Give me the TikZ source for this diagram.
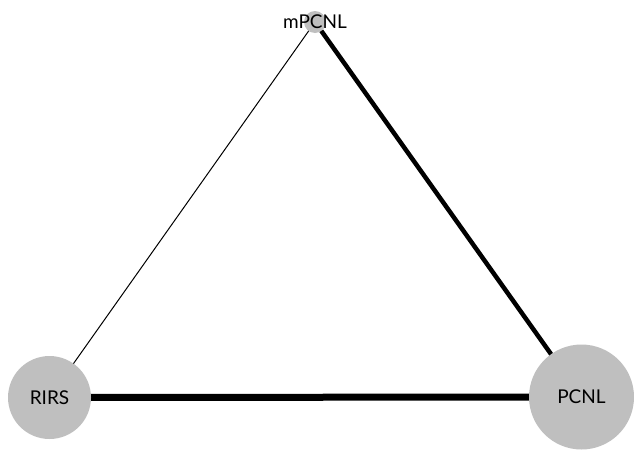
\documentclass[tikz,border=0pt]{standalone}
\usepackage{fontspec}
\setmainfont{Lato}
\begin{document}
\begin{tikzpicture}[x=1pt,y=-1pt,
  vert/.style={circle,fill=black!25,inner sep=0pt,minimum size=#1},
  lab/.style={font=\fontsize{19}{22}\selectfont,text=black}]
\useasboundingbox (0,0) rectangle (634,450);
\coordinate (cm) at (315,22);
\coordinate (cr) at (49.5,397.5);
\coordinate (cp) at (581.5,397);
\draw[line width=1pt] (cm) -- (cr);
\draw[line width=4.5pt] (cm) -- (cp);
\draw[line width=7pt] (cr) -- (cp);
\node[vert=22pt] (m) at (cm) {};
\node[vert=83pt] (r) at (cr) {};
\node[vert=105pt] (p) at (cp) {};
\node[lab] (lm) at (m) {mPCNL};
\node[lab] (lr) at (r) {RIRS};
\node[lab] (lp) at (p) {PCNL};
\end{tikzpicture}
\end{document}
